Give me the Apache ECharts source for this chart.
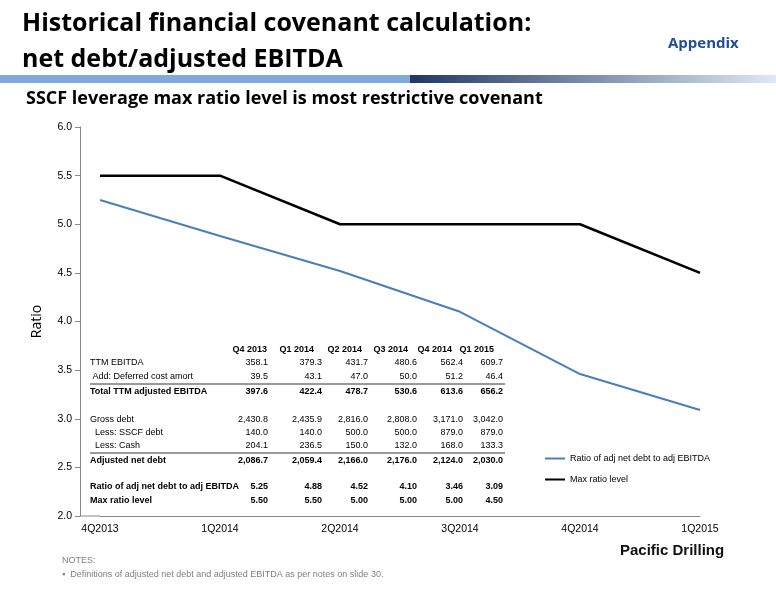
<!DOCTYPE html>
<html><head><meta charset="utf-8">
<script src="https://cdn.jsdelivr.net/npm/echarts@6/dist/echarts.min.js"></script>
<style>body{margin:0;background:#fff}#c{width:776px;height:600px}</style>
</head><body><div id="c"></div>
<script>
var categories = ['4Q2013', '1Q2014', '2Q2014', '3Q2014', '4Q2014', '1Q2015'];
var ratioValues = [5.25, 4.88, 4.52, 4.10, 3.46, 3.09];
var maxValues = [5.50, 5.50, 5.00, 5.00, 5.00, 4.50];

var tableHead = ['Q4 2013', 'Q1 2014', 'Q2 2014', 'Q3 2014', 'Q4 2014', 'Q1 2015'];
var tableRows = [
  ['TTM EBITDA', '358.1', '379.3', '431.7', '480.6', '562.4', '609.7'],
  [' Add: Deferred cost amort', '39.5', '43.1', '47.0', '50.0', '51.2', '46.4'],
  ['Total TTM adjusted EBITDA', '397.6', '422.4', '478.7', '530.6', '613.6', '656.2'],
  ['Gross debt', '2,430.8', '2,435.9', '2,816.0', '2,808.0', '3,171.0', '3,042.0'],
  ['  Less: SSCF debt', '140.0', '140.0', '500.0', '500.0', '879.0', '879.0'],
  ['  Less: Cash', '204.1', '236.5', '150.0', '132.0', '168.0', '133.3'],
  ['Adjusted net debt', '2,086.7', '2,059.4', '2,166.0', '2,176.0', '2,124.0', '2,030.0'],
  ['Ratio of adj net debt to adj EBITDA', '5.25', '4.88', '4.52', '4.10', '3.46', '3.09'],
  ['Max ratio level', '5.50', '5.50', '5.00', '5.00', '5.00', '4.50']
];

var font = 'Liberation Sans';
var colRight = [268, 322, 368, 417, 463, 503];
var headRight = [267, 314, 362, 408, 452, 494];
var rowY = [363, 377, 392, 420, 433, 446, 461, 487, 501];
var boldRows = {2: 1, 6: 1, 7: 1, 8: 1};

var g = [];
// header stripe
g.push({type: 'rect', shape: {x: 0, y: 75, width: 410, height: 8}, style: {fill: '#80aade'}});
g.push({type: 'rect', shape: {x: 410, y: 75, width: 366, height: 8}, style: {fill: new echarts.graphic.LinearGradient(0, 0, 1, 0, [{offset: 0, color: '#1f3864'}, {offset: 1, color: '#dde8f6'}])}});
g.push({type: 'text', left: 22, top: 6, style: {text: 'Historical financial covenant calculation:\nnet debt/adjusted EBITDA', font: 'bold 25px "Open Sans"', lineHeight: 36, fill: '#000'}});
g.push({type: 'text', left: 668, top: 36, style: {text: 'Appendix', font: 'bold 15px "Open Sans"', fill: '#1f4e99'}});
g.push({type: 'text', left: 26, top: 90, style: {text: 'SSCF leverage max ratio level is most restrictive covenant', font: 'bold 18px "Open Sans"', fill: '#000'}});
g.push({type: 'text', left: 62, top: 556, style: {text: 'NOTES:', font: '9px ' + font, fill: '#7f7f7f', textDecoration: 'underline'}});
g.push({type: 'text', left: 62, top: 570, style: {text: '\u25aa  Definitions of adjusted net debt and adjusted EBITDA as per notes on slide 30.', font: '9px ' + font, fill: '#7f7f7f'}});
g.push({type: 'text', left: 620, top: 543, style: {text: 'Pacific Drilling', font: 'bold 15px ' + font, fill: '#111'}});

// table
tableHead.forEach(function (h, i) {
  g.push({type: 'text', x: headRight[i], y: 350, style: {text: h, font: 'bold 9px ' + font, align: 'right', verticalAlign: 'middle', fill: '#000'}});
});
tableRows.forEach(function (r, ri) {
  var f = (boldRows[ri] ? 'bold ' : '') + '9px ' + font;
  g.push({type: 'text', x: 90, y: rowY[ri], style: {text: r[0], font: f, verticalAlign: 'middle', fill: '#000'}});
  for (var i = 1; i < r.length; i++) {
    g.push({type: 'text', x: colRight[i - 1], y: rowY[ri], style: {text: r[i], font: f, align: 'right', verticalAlign: 'middle', fill: '#000'}});
  }
});
[384, 453].forEach(function (y) {
  g.push({type: 'line', shape: {x1: 90, y1: y, x2: 505, y2: y}, style: {stroke: '#000', lineWidth: 0.8}});
});
g.push({type: 'line', shape: {x1: 80, y1: 516, x2: 100, y2: 516}, style: {stroke: '#888', lineWidth: 1}});

var chart = echarts.init(document.getElementById('c'));
chart.setOption({
  animation: false,
  grid: {left: 100, right: 76, top: 127, bottom: 84},
  legend: {
    orient: 'vertical', left: 540, top: 449, itemGap: 12, itemWidth: 20, itemHeight: 2,
    icon: 'rect', textStyle: {fontFamily: font, fontSize: 9, color: '#000'},
    data: ['Ratio of adj net debt to adj EBITDA', 'Max ratio level']
  },
  xAxis: {
    type: 'category', data: categories, boundaryGap: false,
    axisLine: {lineStyle: {color: '#888'}}, axisTick: {show: false},
    axisLabel: {fontFamily: font, fontSize: 10.5, color: '#000', margin: 8}
  },
  yAxis: {
    type: 'value', min: 2, max: 6, interval: 0.5, offset: 20,
    name: 'Ratio', nameLocation: 'middle', nameGap: 36,
    nameTextStyle: {fontFamily: 'Open Sans', fontSize: 14, color: '#000'},
    axisLine: {show: true, lineStyle: {color: '#888'}},
    axisTick: {show: true, length: 5, lineStyle: {color: '#888'}},
    splitLine: {show: false},
    axisLabel: {fontFamily: font, fontSize: 10.5, color: '#000', formatter: function (v) { return v.toFixed(1); }}
  },
  series: [
    {name: 'Ratio of adj net debt to adj EBITDA', type: 'line', data: ratioValues, symbol: 'none', lineStyle: {color: '#4a7ebb', width: 2}, itemStyle: {color: '#4a7ebb'}},
    {name: 'Max ratio level', type: 'line', data: maxValues, symbol: 'none', lineStyle: {color: '#000', width: 2.5}, itemStyle: {color: '#000'}}
  ],
  graphic: g
});
</script></body></html>
